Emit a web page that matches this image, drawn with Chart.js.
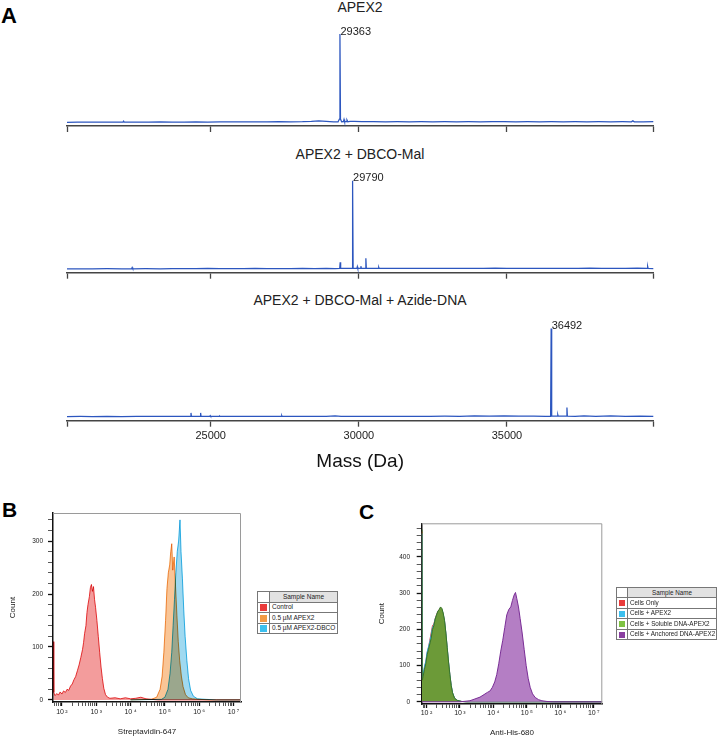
<!DOCTYPE html>
<html>
<head>
<meta charset="utf-8">
<script src="https://cdn.jsdelivr.net/npm/chart.js@4.4.1/dist/chart.umd.min.js"></script>
<style>
html,body{margin:0;padding:0;background:#fff;}
body{width:719px;height:739px;position:relative;overflow:hidden;font-family:"Liberation Sans",Arial,Helvetica,sans-serif;color:#222;}
.box{position:absolute;}
.letter{position:absolute;font-weight:bold;font-size:22px;line-height:22px;color:#000;}
.stitle{position:absolute;left:67px;width:586px;text-align:center;font-size:14px;line-height:14px;color:#222;white-space:nowrap;}
table.leg{position:absolute;border-collapse:collapse;font-size:6.5px;color:#222;border:1.5px solid #444;table-layout:fixed;}
table.leg td{border:1px solid #777;padding:0 0 0 2px;white-space:nowrap;overflow:hidden;line-height:8px;}
table.leg td.sw{padding:0;text-align:center;}
table.leg td.hd{background:#e2e2e2;text-align:center;padding:0;}
table.leg span.sq{display:inline-block;width:7px;height:7px;vertical-align:middle;}
#legC{font-size:6.3px;}
#legC span.sq{width:6px;height:6px;}
</style>
</head>
<body>
<div class="letter" style="left:1px;top:5px;">A</div>
<div class="letter" style="left:2px;top:499px;font-size:21px;line-height:21px;">B</div>
<div class="letter" style="left:359px;top:501px;font-size:21px;line-height:21px;">C</div>

<div class="stitle" id="t1" style="top:0px;"></div>
<div class="stitle" id="t2" style="top:146.5px;"></div>
<div class="stitle" id="t3" style="top:293px;"></div>

<div class="box" style="left:0;top:0;width:719px;height:140px;"><canvas id="s1"></canvas></div>
<div class="box" style="left:0;top:140px;width:719px;height:146px;"><canvas id="s2"></canvas></div>
<div class="box" style="left:0;top:286px;width:719px;height:194px;"><canvas id="s3"></canvas></div>

<div class="box" style="left:0;top:480px;width:250px;height:259px;"><canvas id="fb"></canvas></div>
<div class="box" style="left:360px;top:480px;width:359px;height:259px;"><canvas id="fc"></canvas></div>

<table class="leg" id="legB" style="left:257px;top:591px;width:81px;"></table>
<table class="leg" id="legC" style="left:616px;top:587px;width:101px;"></table>

<script>
// ================= DATA =================
// Panel A: deconvoluted mass spectra (mass in Da, relative intensity %)
const spectrumTitles = ['APEX2', 'APEX2 + DBCO-Mal', 'APEX2 + DBCO-Mal + Azide-DNA'];
const massTicks = [20150, 25000, 30000, 35000, 39940];
const massTickLabels = ['', '25000', '30000', '35000', ''];
const peakMasses = [29363, 29790, 36492];
const peakLabels = ['29363', '29790', '36492'];

const spectrumApex2 = [
  [20150,0.4],[20500,0.6],[20900,0.5],[21300,0.7],[21700,0.6],[22040,0.6],[22060,1.6],[22080,0.6],
  [22500,0.7],[22900,0.6],[23300,0.8],[23700,0.7],[24100,0.6],[24500,0.8],[24900,0.7],[25300,0.8],
  [25700,0.9],[26100,0.8],[26500,0.9],[26900,0.8],[27300,1.0],[27700,0.9],[28100,1.0],[28400,1.3],
  [28650,1.9],[28900,1.3],[29150,0.8],[29300,0.9],[29345,4],[29363,100],[29381,4],[29420,1.0],
  [29480,1.2],[29500,3.6],[29520,1.0],[29570,1.2],[29600,3.0],[29630,1.0],[29700,1.5],[29850,1.3],
  [30100,1.1],[30500,1.0],[30900,0.9],[31300,1.0],[31700,0.9],[32100,1.0],[32500,0.9],[32900,1.0],
  [33300,0.9],[33700,1.0],[34100,0.9],[34500,1.1],[34900,1.0],[35300,0.9],[35700,1.0],[36100,0.9],
  [36500,1.0],[36900,0.9],[37300,1.0],[37700,0.9],[38100,1.0],[38500,0.9],[38900,1.0],[39200,0.9],
  [39250,2.0],[39300,0.9],[39600,0.9],[39940,1.0]
];
const spectrumDbcoMal = [
  [20150,0.5],[20600,0.6],[21000,0.5],[21500,0.7],[22000,0.6],[22330,0.6],[22350,2.0],[22370,0.6],
  [22800,0.7],[23300,0.6],[23700,0.9],[24100,0.7],[24500,0.8],[24900,1.0],[25300,0.7],[25700,0.9],
  [26100,0.7],[26500,1.0],[26900,0.8],[27300,0.9],[27700,0.8],[28100,1.0],[28500,0.8],[28900,1.0],
  [29200,0.9],[29355,1.0],[29371,8],[29387,1.0],[29600,1.0],[29772,1.0],[29790,100],[29808,1.0],
  [29935,1.0],[29950,3.0],[29965,1.0],[30055,1.0],[30070,3.5],[30085,1.0],[30222,1.0],[30238,12.5],
  [30254,1.0],[30450,1.0],[30660,1.0],[30673,2.2],[30686,1.0],[31000,1.2],[31400,1.0],[31800,1.2],
  [32200,1.0],[32600,1.1],[33000,1.0],[33400,1.2],[33800,1.0],[34200,1.1],[34600,1.3],[35000,1.1],
  [35400,1.2],[35800,1.0],[36200,1.2],[36600,1.0],[37000,1.2],[37400,1.0],[37800,1.3],[38200,1.0],
  [38600,1.2],[39000,1.0],[39400,1.3],[39735,1.0],[39750,3.2],[39765,1.0],[39940,0.8]
];
const spectrumAzideDna = [
  [20150,0.8],[20600,1.0],[21000,0.9],[21500,1.1],[22000,0.9],[22500,1.1],[23000,1.0],[23500,1.1],
  [24000,1.0],[24320,1.0],[24335,5],[24350,1.0],[24645,1.0],[24660,5],[24675,1.0],[24970,1.0],
  [24985,1.8],[25000,1.0],[25290,1.0],[25305,1.4],[25320,1.0],[25800,1.1],[26300,1.0],[26800,1.2],
  [27390,1.0],[27400,1.8],[27410,1.0],[27900,1.1],[28400,1.0],[28900,1.2],[29200,1.6],[29400,1.1],
  [29900,1.2],[30400,1.0],[30900,1.2],[31400,1.0],[31900,1.2],[32400,1.1],[32900,1.3],[33400,1.2],
  [33900,1.5],[34400,1.3],[34900,1.5],[35400,1.3],[35900,1.4],[36300,1.2],[36474,1.2],[36492,100],
  [36510,1.5],[36600,1.4],[36705,1.3],[36717,2.8],[36729,1.3],[37010,1.3],[37025,11],[37040,1.3],
  [37300,1.2],[37600,1.6],[38000,1.2],[38500,1.6],[39000,1.2],[39500,1.4],[39940,1.2]
];

// Panel B: flow cytometry, Streptavidin-647 intensity vs count
const seriesNamesB = ['Control', '0.5 \u00B5M APEX2', '0.5 \u00B5M APEX2-DBCO'];
const histControlB = [
  [56,110],[58,14],[63,8],[71,12],[79,9],[89,15],[100,11],[112,17],[126,14],[141,20],[158,18],[178,26],
  [200,30],[224,38],[251,44],[282,55],[316,66],[355,80],[398,95],[427,108],[457,125],[501,140],[537,165],
  [575,180],[631,195],[676,212],[724,218],[776,205],[832,214],[891,190],[955,175],[1047,150],[1148,120],
  [1259,90],[1380,62],[1514,40],[1660,22],[1862,10],[2138,5],[2512,3],[3548,4],[5012,2],[7079,4],
  [10000,2],[14125,3],[19953,5],[28184,2],[39811,1],[63096,0],[18000000,0]
];
const histApex2B = [
  [10000,0],[39811,1],[57544,5],[72444,20],[83176,45],[93325,90],[104713,150],[114815,210],[125893,240],
  [138038,255],[147911,280],[158489,295],[169824,245],[186209,270],[204174,215],[223872,160],[245471,110],
  [269153,75],[301995,45],[338844,25],[398107,10],[478630,4],[630957,2],[1000000,1],[1995262,0],[18000000,0]
];
const histApex2DbcoB = [
  [10000,0],[79433,1],[100000,5],[123027,20],[141254,50],[158489,90],[173780,140],[190546,190],[208930,240],
  [229087,280],[251189,300],[275423,340],[295121,280],[323594,230],[354813,170],[389045,120],[436516,75],
  [489779,40],[562341,18],[676083,7],[891251,2],[1584893,1],[3162278,0],[18000000,0]
];

// Panel C: flow cytometry, Anti-His-680 intensity vs count
const seriesNamesC = ['Cells Only', 'Cells + APEX2', 'Cells + Soluble DNA-APEX2', 'Cells + Anchored DNA-APEX2'];
const histCellsOnlyC = [
  [73.5,470],[74.8,58],[79.4,72],[87.1,95],[95.5,110],[104.7,135],[114.8,150],[125.9,170],[138,190],
  [151.4,210],[166,215],[182,230],[199.5,240],[218.8,250],[239.9,255],[263,258],[288.4,255],[316.2,242],
  [346.7,222],[380.2,188],[416.9,148],[457.1,108],[501.2,73],[549.5,44],[602.6,24],[691.8,10],[831.8,4],
  [1122,1],[1585,0],[18000000,0]
];
const histApex2C = [
  [73.5,465],[74.8,62],[79.4,75],[87.1,98],[95.5,112],[104.7,138],[114.8,152],[125.9,166],[138,184],
  [151.4,205],[166,212],[182,229],[199.5,238],[218.8,249],[239.9,254],[263,259],[288.4,256],[316.2,243],
  [346.7,223],[380.2,189],[416.9,149],[457.1,109],[501.2,74],[549.5,45],[602.6,25],[691.8,10],[831.8,4],
  [1122,1],[1585,0],[18000000,0]
];
const histSolubleC = [
  [73.5,476],[74.8,60],[79.4,70],[87.1,90],[95.5,105],[104.7,130],[114.8,145],[125.9,160],[138,175],
  [151.4,200],[166,210],[182,228],[199.5,240],[218.8,250],[239.9,255],[263,262],[288.4,258],[316.2,245],
  [346.7,225],[380.2,190],[416.9,150],[457.1,110],[501.2,75],[549.5,45],[602.6,25],[691.8,10],[831.8,4],
  [1122,1],[1585,0],[18000000,0]
];
const histAnchoredC = [
  [73.5,0],[1000,0],[1995,3],[2818,8],[3981,13],[5248,20],[6607,26],[7943,30],[9333,40],[10965,55],
  [12589,75],[14454,105],[16596,140],[19055,170],[21878,205],[25119,240],[28840,255],[33113,262],
  [37154,280],[41687,295],[45709,302],[50119,285],[56234,262],[63096,230],[72444,190],[83176,145],
  [95499,100],[109648,65],[125893,40],[147911,22],[177828,12],[223872,6],[281838,3],[398107,1],
  [630957,0],[18000000,0]
];
const flowMajorTicks = [100, 1000, 10000, 100000, 1000000, 10000000];
const flowTickLabels = ['10\u2009\u00B2', '10\u2009\u00B3', '10\u2009\u2074', '10\u2009\u2075', '10\u2009\u2076', '10\u2009\u2077'];

// ================= STYLE / HELPERS =================
const FONT = '"Liberation Sans", Arial, Helvetica, sans-serif';
const specColor = '#2c56bf';
const colorsB = {line: ['#e8383a', '#f0923a', '#33b9e8'], fill: ['#f39c9c', '#f9c596', '#9fd9f0'], swatch: ['#ea3b3b', '#f39a45', '#3cbfee']};
const colorsC = {line: ['#e53935', '#29b6f6', '#3a7425', '#7a2e96'], fill: ['rgba(240,90,90,0.6)', 'rgba(80,190,240,0.6)', 'rgb(108,154,56)', 'rgb(180,126,196)'], swatch: ['#ea3b3b', '#3cbfee', '#7ec242', '#8a3fa0']};

document.getElementById('t1').textContent = spectrumTitles[0];
document.getElementById('t2').textContent = spectrumTitles[1];
document.getElementById('t3').textContent = spectrumTitles[2];

const peakLabelPlugin = {
  id: 'peakLabel',
  afterDatasetsDraw(chart, args, opts) {
    if (!opts || opts.mass == null) return;
    const {ctx, scales: {x, y}} = chart;
    const px = x.getPixelForValue(opts.mass);
    const py = y.getPixelForValue(opts.value);
    ctx.save();
    ctx.font = '11px ' + FONT;
    ctx.fillStyle = '#222';
    ctx.textAlign = 'left';
    ctx.textBaseline = 'alphabetic';
    ctx.fillText(opts.text, px + 0.5, py + 0.5);
    ctx.restore();
  }
};

const framePlugin = {
  id: 'frame',
  afterDatasetsDraw(chart) {
    const {ctx, chartArea: a} = chart;
    ctx.save();
    ctx.strokeStyle = '#9a9a9a';
    ctx.lineWidth = 1;
    ctx.beginPath();
    ctx.moveTo(a.left, a.top + 0.5);
    ctx.lineTo(a.right - 0.5, a.top + 0.5);
    ctx.lineTo(a.right - 0.5, a.bottom);
    ctx.stroke();
    ctx.restore();
  }
};

const multiplyPlugin = {
  id: 'multiplyBlend',
  beforeDatasetsDraw(chart, args, opts) {
    if (!opts || !opts.on) return;
    chart.ctx.save();
    chart.ctx.globalCompositeOperation = 'multiply';
  },
  afterDatasetsDraw(chart, args, opts) {
    if (!opts || !opts.on) return;
    chart.ctx.restore();
  }
};

function makeSpectrum(id, series, idx, cfg) {
  const peakVal = series.find(p => p[0] === peakMasses[idx])[1];
  return new Chart(document.getElementById(id), {
    type: 'line',
    data: {datasets: [{
      data: series.map(([x, y]) => ({x, y})),
      borderColor: specColor, borderWidth: 1.25, pointRadius: 0, tension: 0, clip: false, fill: false
    }]},
    options: {
      responsive: true, maintainAspectRatio: false, animation: false, events: [],
      layout: {padding: {left: 67, right: 719 - 653.3, top: cfg.padTop, bottom: 0}},
      plugins: {
        legend: {display: false}, tooltip: {enabled: false},
        peakLabel: {mass: peakMasses[idx], value: peakVal, text: peakLabels[idx]}
      },
      scales: {
        x: {
          type: 'linear', min: massTicks[0], max: massTicks[massTicks.length - 1],
          afterBuildTicks: s => { s.ticks = massTicks.map(v => ({value: v})); },
          afterFit: s => { s.height = cfg.axisH; },
          ticks: {display: cfg.labels, autoSkip: false, maxRotation: 0, minRotation: 0, padding: 3,
                  font: {size: 11, family: FONT}, color: '#222',
                  callback: (v, i) => massTickLabels[i]},
          grid: {drawOnChartArea: false, drawTicks: true, tickLength: 6, tickColor: '#444', tickWidth: 1.3},
          border: {display: true, color: '#444', width: 1.5},
          title: cfg.title ? {display: true, text: cfg.title, font: {size: 19, family: FONT}, color: '#111',
                              padding: {top: 0, bottom: cfg.titlePad}} : {display: false}
        },
        y: {display: false, min: -3.8, max: 100}
      }
    },
    plugins: [peakLabelPlugin]
  });
}

makeSpectrum('s1', spectrumApex2, 0, {padTop: 34, axisH: 14, labels: false});
makeSpectrum('s2', spectrumDbcoMal, 1, {padTop: 40.7, axisH: 13.3, labels: false});
makeSpectrum('s3', spectrumAzideDna, 2, {padTop: 42.5, axisH: 59.3, labels: true, title: 'Mass (Da)', titlePad: 7});

function flowTicks(min, max) {
  const out = [];
  for (let e = 1; e <= 7; e++) {
    for (let m = 1; m <= 9; m++) {
      const v = m * Math.pow(10, e);
      if (v >= min && v <= max) out.push({value: v});
    }
  }
  return out;
}
function countTicks(max) {
  const out = [];
  for (let v = 0; v <= max; v += 20) out.push({value: v});
  return out;
}

function makeFlow(id, seriesList, colors, cfg) {
  const n = seriesList.length;
  return new Chart(document.getElementById(id), {
    type: 'line',
    data: {datasets: seriesList.map((s, i) => ({
      data: s.map(([x, y]) => ({x, y})),
      borderColor: colors.line[i], backgroundColor: colors.fill[i], fill: 'origin',
      borderWidth: 1, pointRadius: 0, tension: 0, order: n - i
    }))},
    options: {
      responsive: true, maintainAspectRatio: false, animation: false, events: [],
      layout: {padding: {left: 0, right: cfg.padRight, top: cfg.padTop, bottom: 0}},
      plugins: {legend: {display: false}, tooltip: {enabled: false}, multiplyBlend: {on: cfg.multiply}},
      scales: {
        x: {
          type: 'logarithmic', min: cfg.xMin, max: cfg.xMax,
          afterBuildTicks: s => { s.ticks = flowTicks(cfg.xMin, cfg.xMax); },
          afterFit: s => { s.height = cfg.xAxisH; },
          ticks: {autoSkip: false, maxRotation: 0, minRotation: 0, padding: cfg.xLabelPad,
                  font: {size: 7, family: FONT}, color: '#222',
                  callback: v => { const k = flowMajorTicks.indexOf(v); return k >= 0 ? flowTickLabels[k] : ''; }},
          grid: {drawOnChartArea: false, drawTicks: true, tickLength: 4, tickColor: '#111',
                 tickWidth: c => (c.tick && flowMajorTicks.indexOf(c.tick.value) >= 0) ? 1.3 : 0.7},
          border: {display: true, color: '#111', width: 1.5},
          title: {display: true, text: cfg.xTitle, font: {size: 8, family: FONT}, color: '#222',
                  padding: {top: 0, bottom: cfg.xTitlePad}}
        },
        y: {
          type: 'linear', min: cfg.yMin, max: cfg.yMax,
          ticks: {autoSkip: false, padding: cfg.yLabelPad, font: {size: 6.5, family: FONT}, color: '#222',
                  callback: v => (v % 100 === 0 ? String(v) : '')},
          afterBuildTicks: s => { s.ticks = countTicks(cfg.yMax); },
          afterFit: s => { s.width = cfg.yAxisW; },
          grid: {drawOnChartArea: false, drawTicks: true, tickLength: 5, tickColor: '#111',
                 tickWidth: c => (c.tick && c.tick.value % 100 === 0) ? 1.3 : 0.7},
          border: {display: true, color: '#111', width: 1.5},
          title: {display: true, text: 'Count', font: {size: 8, family: FONT}, color: '#222',
                  padding: {top: cfg.yTitlePad, bottom: 0}}
        }
      }
    },
    plugins: [multiplyPlugin, framePlugin]
  });
}

makeFlow('fb', [histControlB, histApex2B, histApex2DbcoB], colorsB, {
  padRight: 9, padTop: 33, xMin: 55, xMax: 16500000, yMin: -4, yMax: 353,
  xAxisH: 37, yAxisW: 53, xLabelPad: 1.5, yLabelPad: 5, xTitlePad: 2, yTitlePad: 8.2,
  xTitle: 'Streptavidin-647', multiply: true
});
makeFlow('fc', [histCellsOnlyC, histApex2C, histSolubleC, histAnchoredC], colorsC, {
  padRight: 116.7, padTop: 43.3, xMin: 72, xMax: 18000000, yMin: -6, yMax: 493,
  xAxisH: 35, yAxisW: 61.7, xLabelPad: 1, yLabelPad: 6.7, xTitlePad: 1, yTitlePad: 17,
  xTitle: 'Anti-His-680', multiply: false
});

// ---- Legend tables built from series names ----
function buildLegend(id, names, swatches, rowH, swW) {
  const t = document.getElementById(id);
  let html = '<colgroup><col style="width:' + swW + 'px"><col></colgroup>';
  html += '<tr style="height:' + rowH + 'px"><td class="sw"></td><td class="hd">Sample Name</td></tr>';
  names.forEach((n, i) => {
    html += '<tr style="height:' + rowH + 'px"><td class="sw"><span class="sq" style="background:' + swatches[i] + '"></span></td><td></td></tr>';
  });
  t.innerHTML = html;
  const rows = t.querySelectorAll('tr');
  names.forEach((n, i) => { rows[i + 1].children[1].textContent = n; });
}
buildLegend('legB', seriesNamesB, colorsB.swatch, 10.5, 12);
buildLegend('legC', seriesNamesC, colorsC.swatch, 10.4, 11);
</script>
</body>
</html>
